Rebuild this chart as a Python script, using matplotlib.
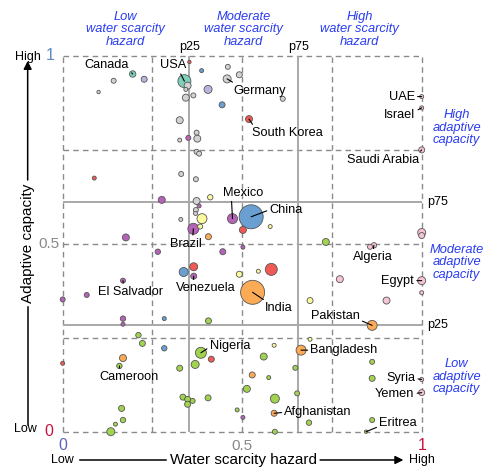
"""Water scarcity hazard vs adaptive capacity - bubble chart"""
import matplotlib
matplotlib.use('Agg')
import matplotlib.pyplot as plt

plt.rcParams['font.family'] = ['Liberation Sans', 'DejaVu Sans']

# ---- data ---------------------------------------------------------------
# group codes: gr=gray, te=teal, la=lavender, bl=blue, re=red, pu=purple,
#              ye=yellow, or=orange, gn=green, pk=pink
hazard = [
    # gray
    0.142, 0.100, 0.460, 0.492, 0.458, 0.348, 0.343, 0.364, 0.343, 0.613, 0.326,
    0.373, 0.375, 0.326, 0.373, 0.380, 0.330, 0.371, 0.373, 0.371, 0.370, 0.329,
    # teal, lavender
    0.195, 0.339, 0.227, 0.405,
    # blue
    0.387, 0.444, 0.525, 0.337, 0.283, 0.283,
    # red
    0.353, 0.519, 0.088, 0.502, 0.365, 0.581, 0.414, 0.000,
    # purple
    0.350, 0.276, 0.380, 0.364, 0.473, 0.176, 0.265, 0.446, 0.502, 0.365, 0.168,
    0.067, 0.000, 0.168, 0.168, 0.502,
    # yellow
    0.411, 0.388, 0.383, 0.578, 0.492, 0.545, 0.589, 0.689, 0.689,
    # orange
    0.406, 0.529, 0.862, 0.664, 0.168, 0.528, 0.589,
    # green
    0.406, 0.211, 0.222, 0.385, 0.326, 0.369, 0.560, 0.648, 0.574, 0.513, 0.653,
    0.335, 0.348, 0.362, 0.348, 0.405, 0.591, 0.486, 0.591, 0.158, 0.164, 0.168,
    0.147, 0.134, 0.733, 0.862, 0.862, 0.686, 0.862, 0.845,
    # pink
    1.000, 1.000, 1.000, 1.000, 1.000, 0.867, 0.856, 1.000, 1.000, 0.772, 0.902,
    1.000, 1.000,
]
capacity = [
    0.934, 0.904, 0.971, 0.950, 0.939, 0.921, 0.911, 0.895, 0.889, 0.886, 0.829,
    0.796, 0.780, 0.776, 0.745, 0.740, 0.686, 0.672, 0.614, 0.590, 0.581, 0.565,
    0.952, 0.933, 0.938, 0.911,
    0.961, 0.870, 0.572, 0.425, 0.301, 0.222,
    0.984, 0.832, 0.675, 0.537, 0.439, 0.432, 0.193, 0.182,
    0.782, 0.617, 0.601, 0.540, 0.567, 0.517, 0.479, 0.479, 0.491, 0.414, 0.402,
    0.364, 0.352, 0.301, 0.286, 0.038,
    0.624, 0.567, 0.546, 0.546, 0.419, 0.427, 0.230, 0.349, 0.246,
    0.519, 0.371, 0.283, 0.217, 0.196, 0.151, 0.049,
    0.295, 0.257, 0.235, 0.210, 0.169, 0.179, 0.200, 0.170, 0.144, 0.114, 0.102,
    0.092, 0.086, 0.082, 0.073, 0.090, 0.088, 0.058, 0.000, 0.175, 0.062, 0.031,
    0.020, 0.000, 0.505, 0.186, 0.142, 0.024, 0.031, 0.000,
    0.892, 0.862, 0.750, 0.530, 0.522, 0.496, 0.492, 0.402, 0.370, 0.406, 0.349,
    0.139, 0.104,
]
# population (millions, approximate)
population = [
    61, 28, 61, 88, 156, 119, 39, 61, 119, 61, 119,
    61, 119, 39, 61, 61, 61, 61, 119, 61, 39, 39,
    100, 411, 88, 156,
    39, 88, 1400, 197, 39, 71,
    28, 119, 39, 119, 156, 350, 88, 39,
    61, 119, 39, 294, 243, 119, 71, 88, 39, 88, 61,
    61, 61, 71, 39, 39,
    71, 243, 61, 39, 88, 39, 39, 88, 39,
    88, 1400, 243, 243, 119, 88, 88,
    88, 71, 88, 294, 88, 156, 119, 61, 39, 119, 61,
    88, 88, 61, 88, 88, 197, 39, 61, 71, 88, 71,
    39, 156, 119, 61, 88, 71, 61, 28,
    39, 39, 88, 156, 88, 71, 61, 156, 39, 119, 119,
    39, 88,
]
group = (['gr'] * 22 + ['te'] * 2 + ['la'] * 2 + ['bl'] * 6 + ['re'] * 8
         + ['pu'] * 16 + ['ye'] * 9 + ['or'] * 7 + ['gn'] * 30 + ['pk'] * 13)
names = [''] * len(hazard)
for i, n in {4: 'Germany', 22: 'Canada', 23: 'USA', 28: 'China', 33: 'South Korea',
             43: 'Brazil', 44: 'Mexico', 49: 'Venezuela', 50: 'El Salvador',
             66: 'India', 67: 'Pakistan', 68: 'Bangladesh', 71: 'Afghanistan',
             75: 'Nigeria', 91: 'Cameroon', 101: 'Eritrea', 102: 'UAE',
             103: 'Israel', 104: 'Saudi Arabia', 107: 'Algeria', 109: 'Egypt',
             113: 'Syria', 114: 'Yemen'}.items():
    names[i] = n

P25_X, P75_X = 0.353, 0.656
P25_Y, P75_Y = 0.284, 0.612

COLORS = {'gr': '#d2d2d2', 'te': '#7fcfba', 'la': '#b9b4dc', 'bl': '#6a9fd2',
          're': '#ef5a55', 'pu': '#b563b6', 'ye': '#fbfa9e', 'or': '#fbaa55',
          'gn': '#a2d34f', 'pk': '#f6c3d8'}
BLUE = '#2a3cf0'

# label layout: name -> (dx px, dy px, relpos of leader on text)
LABEL_POS = {
    'Canada': (-26, 9, (0.95, 0.3)), 'USA': (-11, 16, (0.7, 0.1)),
    'Germany': (33, -12, (0.1, 0.9)), 'South Korea': (38, -14, (0.05, 0.9)),
    'UAE': (-20, 0, (1, 0.5)), 'Israel': (-22, -7, (1, 0.8)),
    'Saudi Arabia': (-39, -10, (0.97, 0.9)), 'Mexico': (11, 26, (0.2, 0)),
    'China': (35, 7, (0, 0.5)), 'Brazil': (-7, -15, (0.7, 1)),
    'Venezuela': (12, -12, (0.29, 1)), 'El Salvador': (7.5, -11, (0.39, 1)),
    'India': (26, -16, (0.1, 1)), 'Algeria': (-1, -12, (0.5, 1)),
    'Egypt': (-24, 0, (1, 0.5)), 'Pakistan': (-37, 9, (1, 0.2)),
    'Bangladesh': (43, 0, (0, 0.5)), 'Nigeria': (29, 7, (0, 0.4)),
    'Cameroon': (10, -11, (0.34, 1)), 'Syria': (-21, 1, (1, 0.5)),
    'Yemen': (-27, -1, (1, 0.5)), 'Afghanistan': (44, 1, (0, 0.5)),
    'Eritrea': (32, 9, (0, 0.2)),
}

fig = plt.figure(figsize=(4.92, 4.70), dpi=100)
ax = fig.add_axes([0.1274, 0.0815, 0.7297, 0.7994])
ax.set_xlim(0, 1); ax.set_ylim(0, 1)
ax.axis('off')

# dashed grid
for v in [0, 0.25, 0.5, 0.75, 1]:
    ax.plot([v, v], [0, 1], color='#8a8a8a', lw=1.0, ls=(0, (4, 3)), zorder=1, clip_on=False)
    ax.plot([0, 1], [v, v], color='#8a8a8a', lw=1.0, ls=(0, (4, 3)), zorder=1, clip_on=False)
# percentile lines
for v in [P25_X, P75_X]:
    ax.plot([v, v], [0, 1], color='#a8a8a8', lw=1.4, zorder=1.5)
for v in [P25_Y, P75_Y]:
    ax.plot([0, 1], [v, v], color='#a8a8a8', lw=1.4, zorder=1.5)
ax.text(P25_X, 1.023, 'p25', ha='center', va='center', fontsize=9)
ax.text(P75_X, 1.023, 'p75', ha='center', va='center', fontsize=9)
ax.text(1.015, P75_Y, 'p75', ha='left', va='center', fontsize=9)
ax.text(1.015, P25_Y, 'p25', ha='left', va='center', fontsize=9)

# bubbles, big first
order = sorted(range(len(hazard)), key=lambda i: -population[i])
ax.scatter([hazard[i] for i in order], [capacity[i] for i in order],
           s=[0.2133 * population[i] for i in order],
           c=[COLORS[group[i]] for i in order],
           edgecolors='#555555', linewidths=0.6, zorder=3, clip_on=False)

# country labels
for i, n in enumerate(names):
    if not n:
        continue
    dx, dy, rp = LABEL_POS[n]
    ax.annotate(n, (hazard[i], capacity[i]), xytext=(dx, dy), textcoords='offset pixels',
                ha='center', va='center', fontsize=9.2, zorder=4,
                arrowprops=dict(arrowstyle='-', color='black', lw=0.8, relpos=rp,
                                shrinkA=0, shrinkB=0))

# quadrant descriptions
for x, t in [(0.175, 'Low\nwater scarcity\nhazard'), (0.503, 'Moderate\nwater scarcity\nhazard'),
             (0.827, 'High\nwater scarcity\nhazard')]:
    ax.text(x, 1.071, t, ha='center', va='center', color=BLUE, style='italic',
            fontsize=9.3, linespacing=1.05)
for y, t in [(0.809, 'High\nadaptive\ncapacity'), (0.451, 'Moderate\nadaptive\ncapacity'),
             (0.146, 'Low\nadaptive\ncapacity')]:
    ax.text(1.0975, y, t, ha='center', va='center', color=BLUE, style='italic',
            fontsize=9.3, linespacing=1.05)

# y axis decoration
ax.text(-0.035, 1.0, '1', ha='center', va='center', fontsize=11.5, color='#5b8ac8')
ax.text(-0.0095, 0.5, '0.5', ha='right', va='center', fontsize=11, color='#888888')
ax.text(-0.038, 0.0, '0', ha='center', va='center', fontsize=11.5, color='#c8143c')
ax.text(-0.0967, 0.998, 'High', ha='center', va='center', fontsize=9)
ax.text(-0.103, 0.006, 'Low', ha='center', va='center', fontsize=9)
ax.text(-0.0975, 0.502, 'Adaptive capacity', rotation=90, ha='center', va='center', fontsize=11)
ax.annotate('', xy=(-0.0975, 0.987), xytext=(-0.0975, 0.670), xycoords='axes fraction',
            arrowprops=dict(arrowstyle='-|>', color='black', lw=1.1, mutation_scale=12,
                            shrinkA=0, shrinkB=0), annotation_clip=False)
ax.plot([-0.0975, -0.0975], [0.332, 0.018], color='black', lw=1.1, clip_on=False)

# x axis decoration
ax.text(0.0, -0.038, '0', ha='center', va='center', fontsize=11.5, color='#5a66bd')
ax.text(0.5, -0.038, '0.5', ha='center', va='center', fontsize=11, color='#888888')
ax.text(1.0, -0.038, '1', ha='center', va='center', fontsize=11.5, color='#c8143c')
ax.text(0.0, -0.0753, 'Low', ha='center', va='center', fontsize=9)
ax.text(1.002, -0.0753, 'High', ha='center', va='center', fontsize=9)
ax.text(0.503, -0.0753, 'Water scarcity hazard', ha='center', va='center', fontsize=11)
ax.plot([0.048, 0.287], [-0.0753, -0.0753], color='black', lw=1.1, clip_on=False)
ax.annotate('', xy=(0.949, -0.0753), xytext=(0.717, -0.0753), xycoords='axes fraction',
            arrowprops=dict(arrowstyle='-|>', color='black', lw=1.1, mutation_scale=12,
                            shrinkA=0, shrinkB=0), annotation_clip=False)

fig.savefig('out.png', dpi=100)
